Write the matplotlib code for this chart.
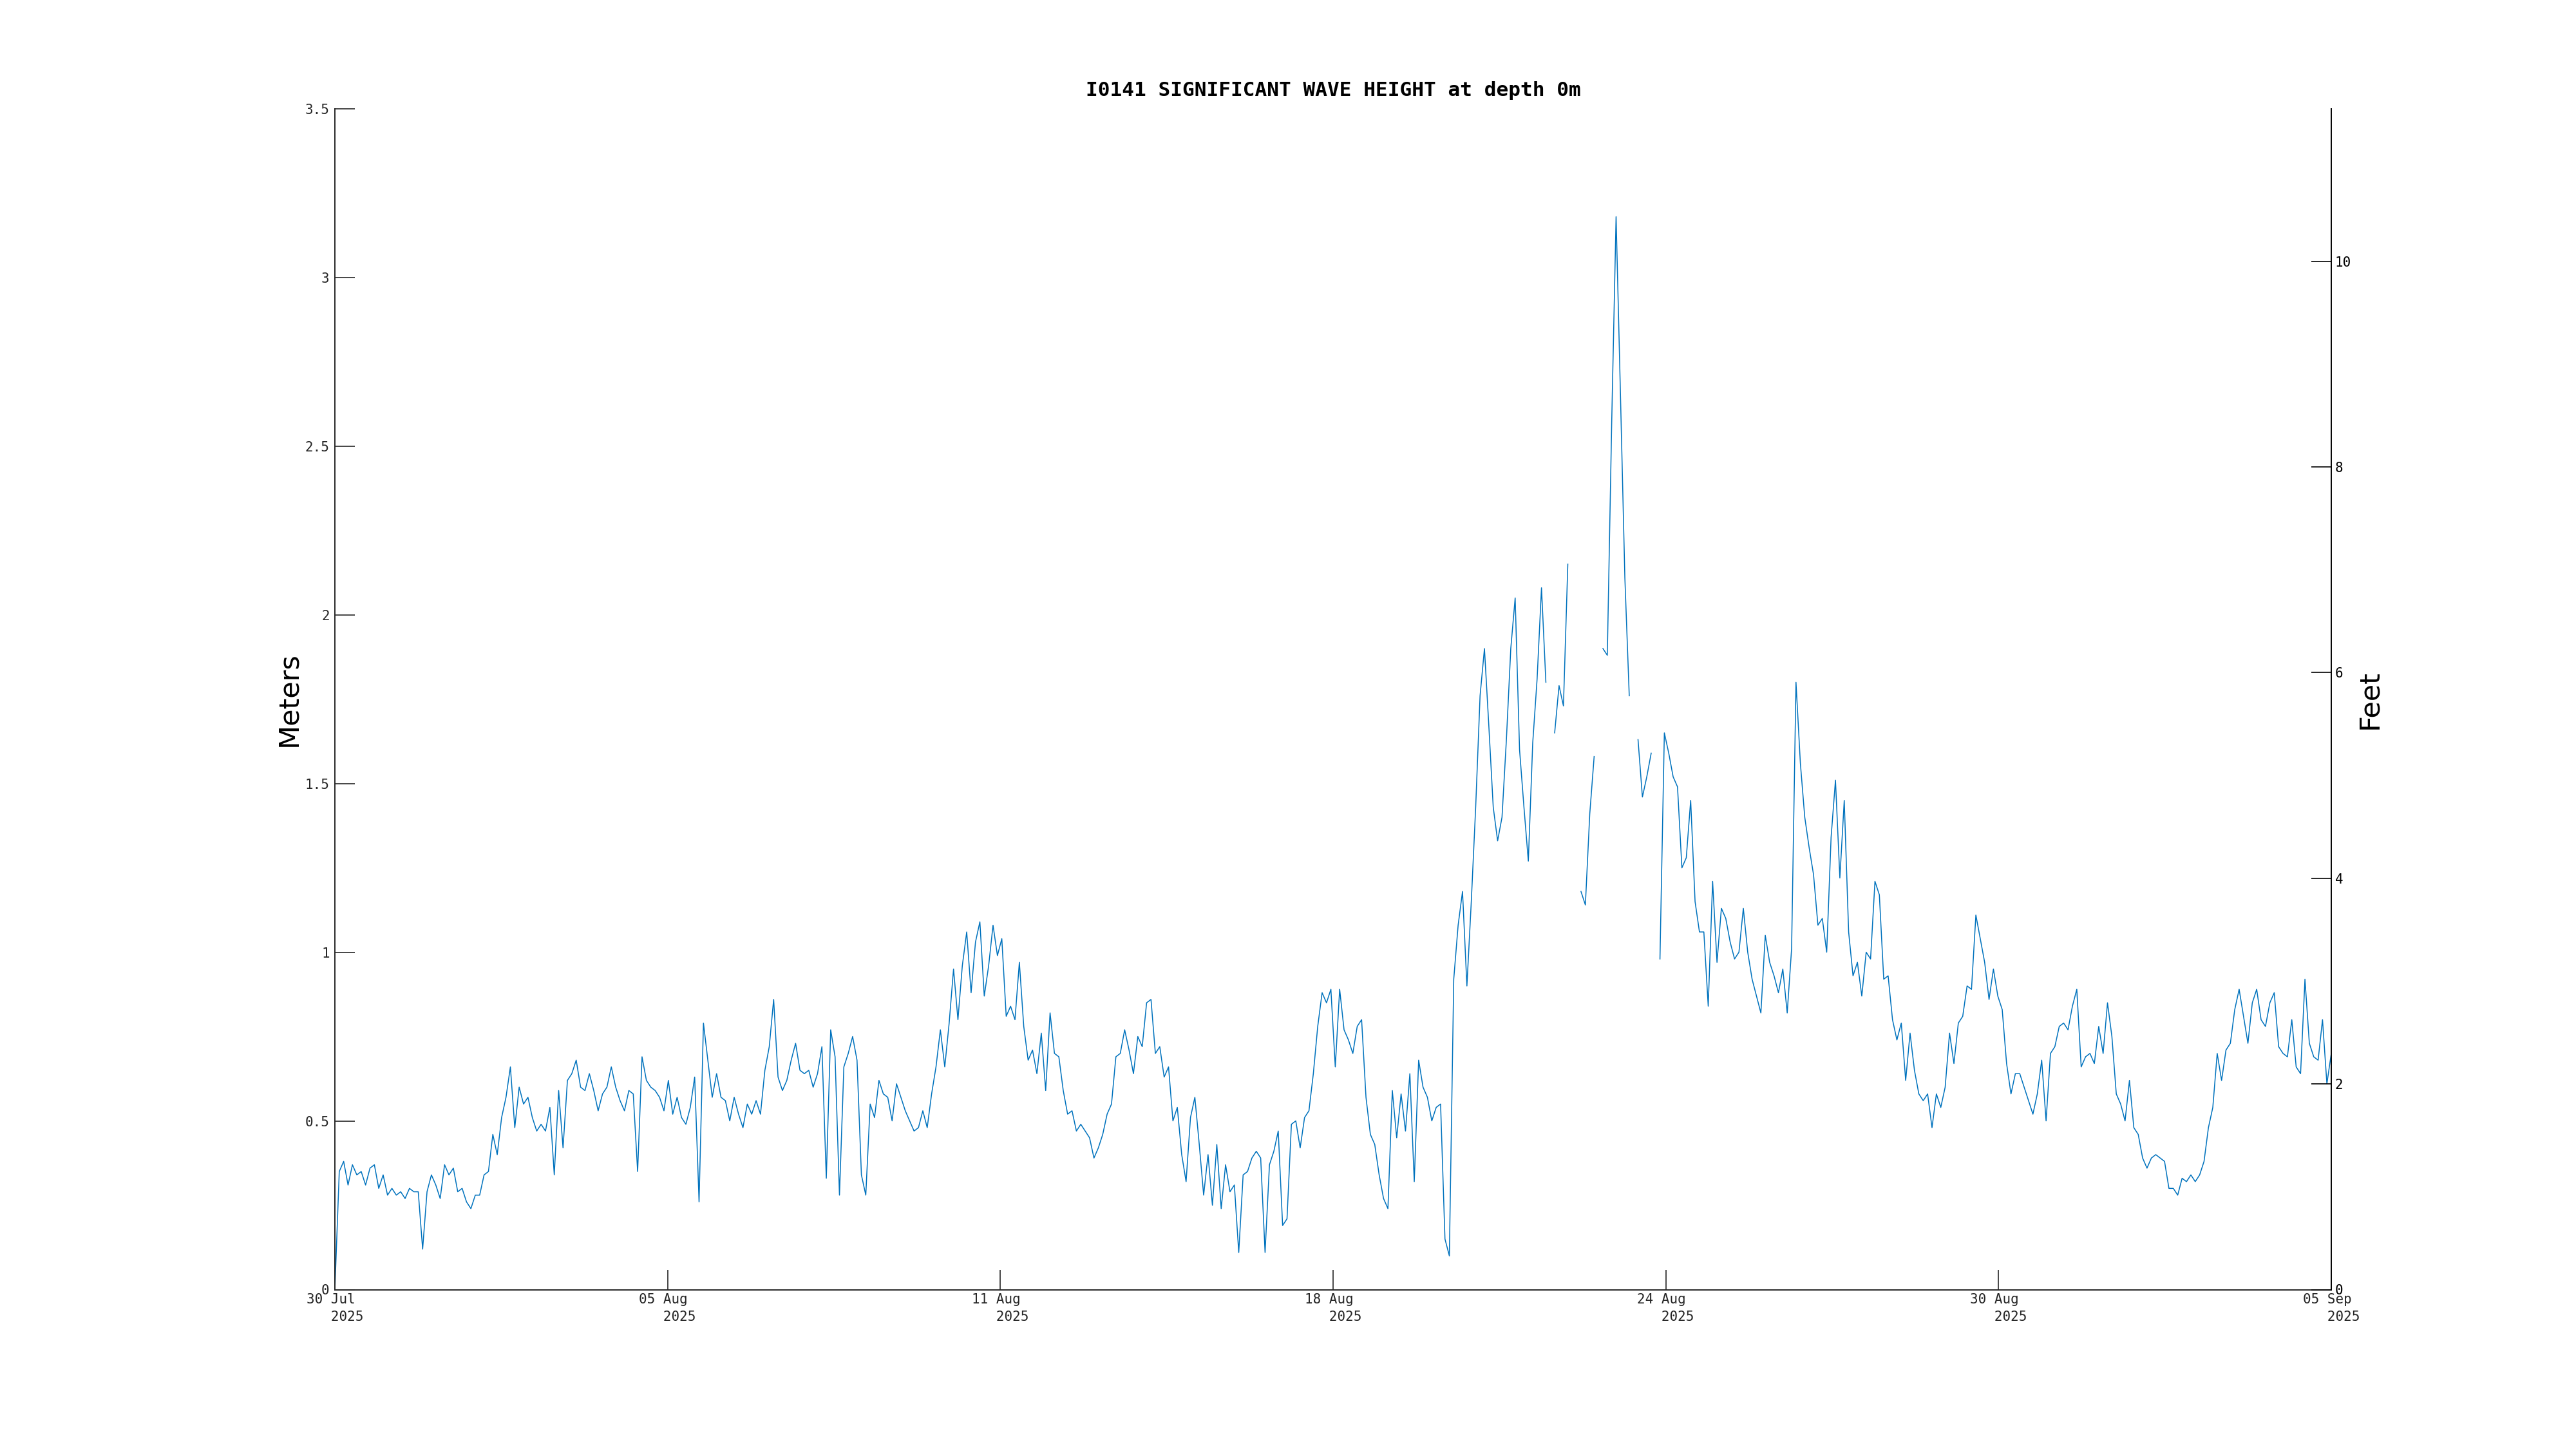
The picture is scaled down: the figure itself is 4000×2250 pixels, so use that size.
import numpy as np
import pandas as pd
import matplotlib
matplotlib.use('Agg')
import matplotlib.pyplot as plt

nan = np.nan

# significant wave height (m), 12 samples per chunk
hs_c00 = [0.00, 0.35, 0.38, 0.31, 0.37, 0.34, 0.35, 0.31, 0.36, 0.37, 0.30, 0.34]
hs_c01 = [0.28, 0.30, 0.28, 0.29, 0.27, 0.30, 0.29, 0.29, 0.12, 0.29, 0.34, 0.31]
hs_c02 = [0.27, 0.37, 0.34, 0.36, 0.29, 0.30, 0.26, 0.24, 0.28, 0.28, 0.34, 0.35]
hs_c03 = [0.46, 0.40, 0.51, 0.57, 0.66, 0.48, 0.60, 0.55, 0.57, 0.51, 0.47, 0.49]
hs_c04 = [0.47, 0.54, 0.34, 0.59, 0.42, 0.62, 0.64, 0.68, 0.60, 0.59, 0.64, 0.59]
hs_c05 = [0.53, 0.58, 0.60, 0.66, 0.60, 0.56, 0.53, 0.59, 0.58, 0.35, 0.69, 0.62]
hs_c06 = [0.60, 0.59, 0.57, 0.53, 0.62, 0.52, 0.57, 0.51, 0.49, 0.54, 0.63, 0.26]
hs_c07 = [0.79, 0.68, 0.57, 0.64, 0.57, 0.56, 0.50, 0.57, 0.52, 0.48, 0.55, 0.52]
hs_c08 = [0.56, 0.52, 0.65, 0.72, 0.86, 0.63, 0.59, 0.62, 0.68, 0.73, 0.65, 0.64]
hs_c09 = [0.65, 0.60, 0.64, 0.72, 0.33, 0.77, 0.69, 0.28, 0.66, 0.70, 0.75, 0.68]
hs_c10 = [0.34, 0.28, 0.55, 0.51, 0.62, 0.58, 0.57, 0.50, 0.61, 0.57, 0.53, 0.50]
hs_c11 = [0.47, 0.48, 0.53, 0.48, 0.58, 0.66, 0.77, 0.66, 0.79, 0.95, 0.80, 0.96]
hs_c12 = [1.06, 0.88, 1.03, 1.09, 0.87, 0.96, 1.08, 0.99, 1.04, 0.81, 0.84, 0.80]
hs_c13 = [0.97, 0.78, 0.68, 0.71, 0.64, 0.76, 0.59, 0.82, 0.70, 0.69, 0.59, 0.52]
hs_c14 = [0.53, 0.47, 0.49, 0.47, 0.45, 0.39, 0.42, 0.46, 0.52, 0.55, 0.69, 0.70]
hs_c15 = [0.77, 0.71, 0.64, 0.75, 0.72, 0.85, 0.86, 0.70, 0.72, 0.63, 0.66, 0.50]
hs_c16 = [0.54, 0.40, 0.32, 0.51, 0.57, 0.43, 0.28, 0.40, 0.25, 0.43, 0.24, 0.37]
hs_c17 = [0.29, 0.31, 0.11, 0.34, 0.35, 0.39, 0.41, 0.39, 0.11, 0.37, 0.41, 0.47]
hs_c18 = [0.19, 0.21, 0.49, 0.50, 0.42, 0.51, 0.53, 0.64, 0.78, 0.88, 0.85, 0.89]
hs_c19 = [0.66, 0.89, 0.77, 0.74, 0.70, 0.78, 0.80, 0.57, 0.46, 0.43, 0.34, 0.27]
hs_c20 = [0.24, 0.59, 0.45, 0.58, 0.47, 0.64, 0.32, 0.68, 0.60, 0.57, 0.50, 0.54]
hs_c21 = [0.55, 0.15, 0.10, 0.92, 1.08, 1.18, 0.90, 1.15, 1.43, 1.76, 1.90, 1.67]
hs_c22 = [1.43, 1.33, 1.40, 1.63, 1.90, 2.05, 1.60, 1.43, 1.27, 1.62, 1.81, 2.08]
hs_c23 = [1.80, nan, 1.65, 1.79, 1.73, 2.15, nan, nan, 1.18, 1.14, 1.41, 1.58]
hs_c24 = [nan, 1.90, 1.88, 2.57, 3.18, 2.65, 2.11, 1.76, nan, 1.63, 1.46, 1.52]
hs_c25 = [1.59, nan, 0.98, 1.65, 1.59, 1.52, 1.49, 1.25, 1.28, 1.45, 1.15, 1.06]
hs_c26 = [1.06, 0.84, 1.21, 0.97, 1.13, 1.10, 1.03, 0.98, 1.00, 1.13, 1.00, 0.92]
hs_c27 = [0.87, 0.82, 1.05, 0.97, 0.93, 0.88, 0.95, 0.82, 1.01, 1.80, 1.56, 1.40]
hs_c28 = [1.31, 1.23, 1.08, 1.10, 1.00, 1.34, 1.51, 1.22, 1.45, 1.06, 0.93, 0.97]
hs_c29 = [0.87, 1.00, 0.98, 1.21, 1.17, 0.92, 0.93, 0.80, 0.74, 0.79, 0.62, 0.76]
hs_c30 = [0.65, 0.58, 0.56, 0.58, 0.48, 0.58, 0.54, 0.60, 0.76, 0.67, 0.79, 0.81]
hs_c31 = [0.90, 0.89, 1.11, 1.04, 0.97, 0.86, 0.95, 0.87, 0.83, 0.67, 0.58, 0.64]
hs_c32 = [0.64, 0.60, 0.56, 0.52, 0.58, 0.68, 0.50, 0.70, 0.72, 0.78, 0.79, 0.77]
hs_c33 = [0.84, 0.89, 0.66, 0.69, 0.70, 0.67, 0.78, 0.70, 0.85, 0.75, 0.58, 0.55]
hs_c34 = [0.50, 0.62, 0.48, 0.46, 0.39, 0.36, 0.39, 0.40, 0.39, 0.38, 0.30, 0.30]
hs_c35 = [0.28, 0.33, 0.32, 0.34, 0.32, 0.34, 0.38, 0.48, 0.54, 0.70, 0.62, 0.71]
hs_c36 = [0.73, 0.83, 0.89, 0.81, 0.73, 0.85, 0.89, 0.80, 0.78, 0.85, 0.88, 0.72]
hs_c37 = [0.70, 0.69, 0.80, 0.66, 0.64, 0.92, 0.73, 0.69, 0.68, 0.80, 0.61, 0.70]

chunks = [hs_c00, hs_c01, hs_c02, hs_c03, hs_c04, hs_c05, hs_c06, hs_c07, hs_c08, hs_c09,
          hs_c10, hs_c11, hs_c12, hs_c13, hs_c14, hs_c15, hs_c16, hs_c17, hs_c18, hs_c19,
          hs_c20, hs_c21, hs_c22, hs_c23, hs_c24, hs_c25, hs_c26, hs_c27, hs_c28, hs_c29,
          hs_c30, hs_c31, hs_c32, hs_c33, hs_c34, hs_c35, hs_c36, hs_c37]
hs_m = np.concatenate(chunks)

t_start = '2025-07-30 00:00'
t_end = '2025-09-05 00:00'
times = pd.date_range(t_start, t_end, periods=len(hs_m))

date_labels = ['30 Jul', '05 Aug', '11 Aug', '18 Aug', '24 Aug', '30 Aug', '05 Sep']
year_label = '2025'
m_ticks = [0, 0.5, 1, 1.5, 2, 2.5, 3, 3.5]
m_labels = ['0', '0.5', '1', '1.5', '2', '2.5', '3', '3.5']
ft_ticks = [0, 2, 4, 6, 8, 10]
ft_labels = ['0', '2', '4', '6', '8', '10']

mono = 'DejaVu Sans Mono'
axc = '#262626'

fig = plt.figure(figsize=(20, 11.25), dpi=200)
fig.patch.set_facecolor('white')
ax = fig.add_axes([0.13, 0.11, 0.775, 0.815])

ax.plot(times, hs_m, color='#0072BD', lw=0.55)

ax.set_xlim(pd.Timestamp(t_start), pd.Timestamp(t_end))
ax.set_ylim(0, 3.5)
ax.set_yticks(m_ticks)
ax.set_yticklabels(m_labels, fontfamily=mono)
ax.set_xticks(pd.date_range(t_start, t_end, periods=len(date_labels)))
ax.set_xticklabels([d + '\n   ' + year_label for d in date_labels], fontfamily=mono,
                   multialignment='left', linespacing=1.45)
ax.tick_params(axis='both', direction='in', length=11, width=0.6, colors=axc,
               labelsize=7.5, pad=3)
ax.tick_params(axis='x', pad=2)

for s in ['top', 'right']:
    ax.spines[s].set_visible(False)
for s in ['left', 'bottom']:
    ax.spines[s].set_color(axc)
    ax.spines[s].set_linewidth(0.7)

ax.set_title('I0141 SIGNIFICANT WAVE HEIGHT at depth 0m', fontfamily=mono,
             fontweight='bold', fontsize=11.2, pad=7)
ax.set_ylabel('Meters', fontsize=15.5)
ax.yaxis.set_label_coords(-0.0165, 0.5)

# feet on the right
ax2 = ax.twinx()
ax2.set_ylim(0, 3.5 / 0.3048)
ax2.set_yticks(ft_ticks)
ax2.set_yticklabels(ft_labels, fontfamily=mono)
ax2.tick_params(axis='y', direction='in', length=11, width=0.6, colors='black',
                labelsize=7.5, pad=2)
for s in ['top', 'left', 'bottom']:
    ax2.spines[s].set_visible(False)
ax2.spines['right'].set_color('black')
ax2.spines['right'].set_linewidth(0.7)
ax2.set_ylabel('Feet', fontsize=15.5)
ax2.yaxis.set_label_coords(1.0125, 0.5)

fig.savefig('out.png', dpi=200, facecolor='white')
